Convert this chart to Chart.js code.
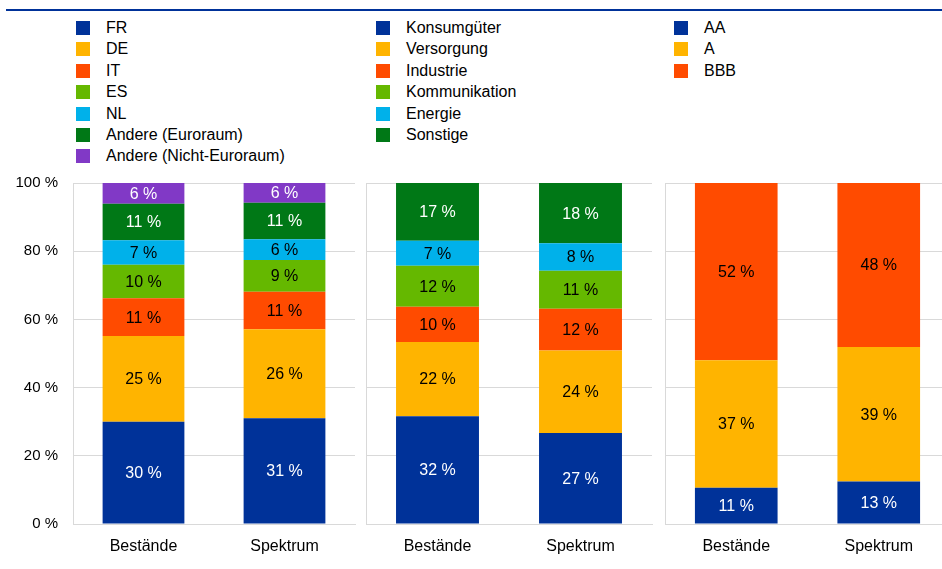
<!DOCTYPE html>
<html>
<head>
<meta charset="utf-8">
<script src="https://cdn.jsdelivr.net/npm/chart.js@4/dist/chart.umd.min.js"></script>
<style>
body { margin: 0; width: 942px; height: 569px; overflow: hidden; background: #fff; position: relative;
       font-family: "Liberation Sans", Arial, sans-serif; }
#topLine { position: absolute; left: 6px; right: 0; top: 9px; height: 2px; background: #003299; }
.legend { position: absolute; top: 21px; }
.row { display: flex; align-items: center; height: 14px; margin-bottom: 7.4px; font-size: 16px; color: #000; white-space: nowrap; }
.sw { width: 14px; height: 14px; margin-right: 16px; flex: none; }
canvas { position: absolute; top: 170px; }
</style>
</head>
<body>
<div id="topLine"></div>
<div class="legend" id="leg1" style="left:76px"></div>
<div class="legend" id="leg2" style="left:376px"></div>
<div class="legend" id="leg3" style="left:674px"></div>
<canvas id="c1" width="362" height="399" style="left:0px"></canvas>
<canvas id="c2" width="300" height="399" style="left:359px"></canvas>
<canvas id="c3" width="300" height="399" style="left:658px"></canvas>
<script>
// Kategorien
const bars = ['Bestände', 'Spektrum'];
const yTicks = [0, 20, 40, 60, 80, 100];

// Länder
const countryNames = ['FR', 'DE', 'IT', 'ES', 'NL', 'Andere (Euroraum)', 'Andere (Nicht-Euroraum)'];
const countryBestaende = [30.0, 25.1, 11.1, 9.8, 7.2, 10.7, 6.1];
const countrySpektrum  = [31.0, 26.1, 11.0, 9.3, 6.1, 10.7, 5.8];

// Sektoren
const sectorNames = ['Konsumgüter', 'Versorgung', 'Industrie', 'Kommunikation', 'Energie', 'Sonstige'];
const sectorBestaende = [31.6, 21.8, 10.3, 12.0, 7.4, 16.9];
const sectorSpektrum  = [26.7, 24.2, 12.2, 11.2, 8.0, 17.7];

// Ratings
const ratingNames = ['AA', 'A', 'BBB'];
const ratingBestaende = [10.6, 37.4, 52.0];
const ratingSpektrum  = [12.5, 39.4, 48.1];

const colors = ['#003299', '#FFB400', '#FF4B00', '#65B800', '#00B1EA', '#007816', '#8139C6'];
const labelColors = ['#fff', '#000', '#000', '#000', '#000', '#fff', '#fff'];
const FONT = '"Liberation Sans", Arial, sans-serif';

// Legende als HTML
function renderLegend(id, names) {
    document.getElementById(id).innerHTML = names.map((n, i) =>
        `<div class="row"><span class="sw" style="background:${colors[i]}"></span>${n}</div>`
    ).join('');
}
renderLegend('leg1', countryNames);
renderLegend('leg2', sectorNames);
renderLegend('leg3', ratingNames);

// Werte in die Balken schreiben
const barLabels = {
    id: 'barLabels',
    afterDatasetsDraw(chart) {
        const ctx = chart.ctx;
        ctx.save();
        ctx.font = '16px ' + FONT;
        ctx.textAlign = 'center';
        ctx.textBaseline = 'middle';
        chart.data.datasets.forEach((ds, i) => {
            chart.getDatasetMeta(i).data.forEach((bar, j) => {
                ctx.fillStyle = labelColors[i];
                ctx.fillText(Math.round(ds.data[j]) + ' %', bar.x, (bar.y + bar.base) / 2 + 1);
            });
        });
        ctx.restore();
    }
};

function buildPanel(canvasId, names, a, b, axisWidth, padRight, showTicks) {
    const datasets = names.map((n, i) => ({
        label: n,
        data: [a[i], b[i]],
        backgroundColor: colors[i],
        borderWidth: 0,
        barPercentage: 0.58,
        categoryPercentage: 1
    }));
    return new Chart(document.getElementById(canvasId), {
        type: 'bar',
        data: { labels: bars, datasets },
        options: {
            responsive: false,
            animation: false,
            layout: { autoPadding: false, padding: { top: 13, right: padRight, bottom: 0, left: 0 } },
            plugins: { legend: { display: false }, tooltip: { enabled: false } },
            scales: {
                x: {
                    stacked: true,
                    grid: { display: false },
                    border: { display: true, color: '#d9d9d9' },
                    ticks: { color: '#000', font: { family: FONT, size: 16 }, padding: 5 },
                    afterFit: s => { s.height = 45; s.paddingLeft = 0; s.paddingRight = 0; }
                },
                y: {
                    stacked: true,
                    min: 0, max: 100,
                    afterBuildTicks: s => { s.ticks = yTicks.map(v => ({ value: v })); },
                    grid: { color: '#d9d9d9', drawTicks: false },
                    border: { display: true, color: '#d9d9d9' },
                    ticks: {
                        display: showTicks,
                        color: '#000',
                        font: { family: FONT, size: 15 },
                        padding: 15,
                        callback: v => v + ' %'
                    },
                    afterFit: s => { s.width = axisWidth; s.paddingTop = 0; s.paddingBottom = 0; }
                }
            }
        },
        plugins: [barLabels]
    });
}

buildPanel('c1', countryNames, countryBestaende, countrySpektrum, 73, 7, true);
buildPanel('c2', sectorNames, sectorBestaende, sectorSpektrum, 7, 7, false);
buildPanel('c3', ratingNames, ratingBestaende, ratingSpektrum, 7, 8, false);
</script>
</body>
</html>
